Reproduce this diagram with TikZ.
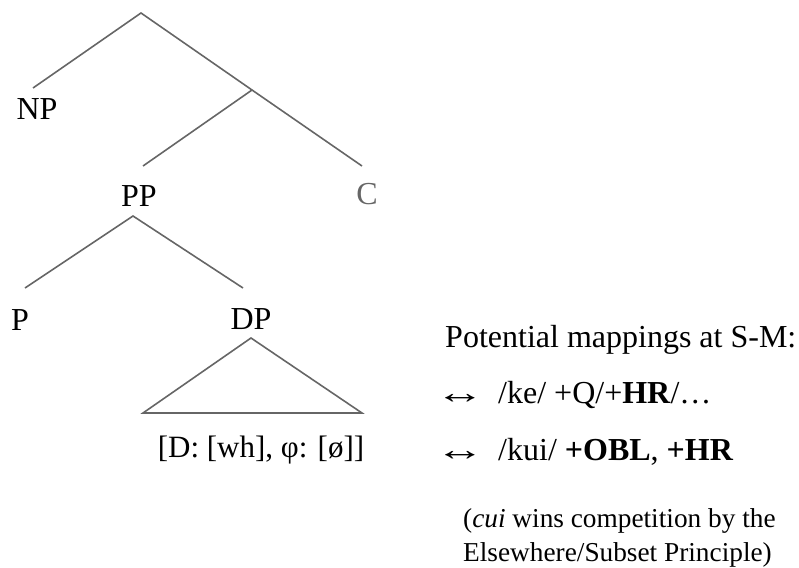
\documentclass[tikz,border=0pt]{standalone}
\usepackage{fontspec}
\setmainfont{Liberation Serif}
\begin{document}
\begin{tikzpicture}[x=1pt,y=-1pt,
  branch/.style={draw=black!60, line width=1.6pt},
  cat/.style={inner sep=0pt, anchor=base, font=\fontsize{32}{38}\selectfont},
  mapline/.style={inner sep=0pt, anchor=base west, font=\fontsize{32}{38}\selectfont},
  note/.style={inner sep=0pt, anchor=base west, font=\fontsize{27.3}{33}\selectfont}]
\useasboundingbox (0,0) rectangle (799,567);

% branching points and branch ends
\coordinate (root) at (141,13);
\coordinate (npT) at (33,88);
\coordinate (bar) at (252,90);
\coordinate (ppT) at (143,166);
\coordinate (cT) at (362,166);
\coordinate (pp) at (133,216);
\coordinate (pT) at (25,288);
\coordinate (dpT) at (243,288);
\coordinate (dpA) at (251,338);
\coordinate (dpL) at (143,413);
\coordinate (dpR) at (362,413);

% category labels
\node[cat] (NP) at (37,119) {NP};
\node[cat] (PP) at (139,206) {PP};
\node[cat, text=black!60] (C) at (367,204) {C};
\node[cat] (P) at (20,330) {P};
\node[cat] (DP) at (251,329) {DP};
\node[cat, font=\fontsize{31}{37}\selectfont] (feat) at (261,457) {[D: [wh], φ: [ø]]};

% tree
\draw[branch] (npT) -- (root) -- (bar);
\draw[branch] (ppT) -- (bar) -- (cT);
\draw[branch] (pT) -- (pp) -- (dpT);
\draw[branch] (dpA) -- (dpL) -- (dpR) -- cycle;

% spell-out candidates
\node[mapline] (head) at (445,347) {Potential mappings at S-M:};
\node[mapline] (arr1) at (435,403) {\scalebox{1.55}[1]{↔}};
\node[mapline] (ke) at (498,403) {/ke/ +Q/+\textbf{HR}/…};
\node[mapline] (arr2) at (435,460) {\scalebox{1.55}[1]{↔}};
\node[mapline] (kui) at (498,460) {/kui/ \textbf{+OBL}, \textbf{+HR}};
\node[note] (note1) at (463,527) {(\textit{cui} wins competition by the};
\node[note] (note2) at (463,561) {Elsewhere/Subset Principle)};
\end{tikzpicture}
\end{document}
